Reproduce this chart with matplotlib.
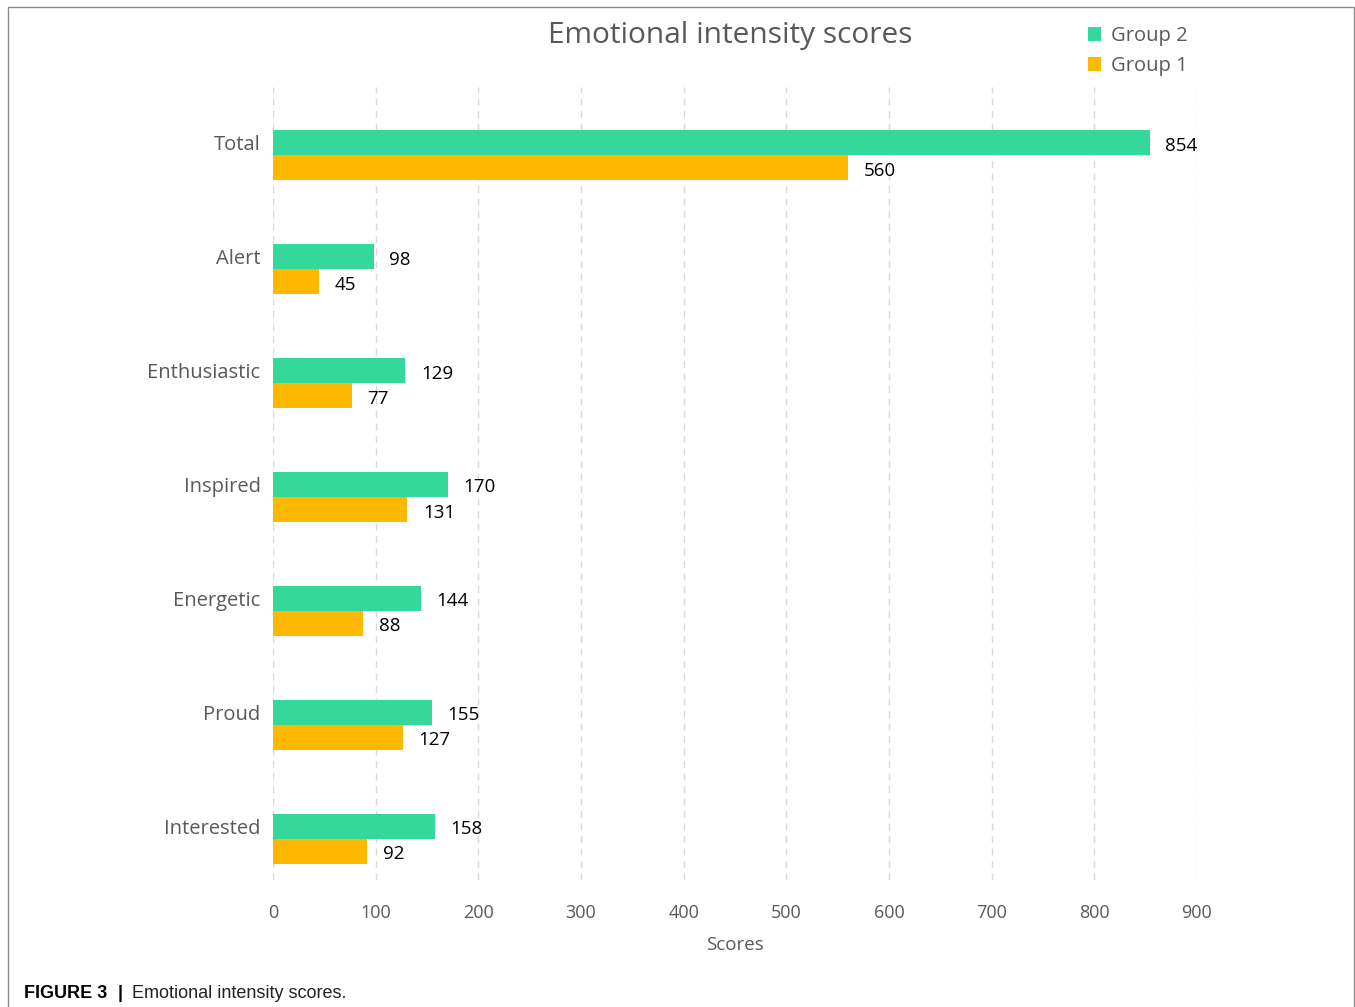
import numpy as np
import matplotlib.pyplot as plt
from matplotlib.patches import Rectangle

# data
cats = ['Interested', 'Proud', 'Energetic', 'Inspired', 'Enthusiastic', 'Alert', 'Total']
group2 = [158, 155, 144, 170, 129, 98, 854]
group1 = [92, 127, 88, 131, 77, 45, 560]

green = '#35D89B'
orange = '#FFB800'
txt = '#595959'

plt.rcParams['font.family'] = ['Open Sans', 'DejaVu Sans']

fig = plt.figure(figsize=(13.55, 10.07), dpi=100)
ax = fig.add_axes([273/1355, 1-880/1007, 924/1355, 793/1007])

y = np.arange(len(cats))
h = 0.22
ax.barh(y + h/2, group2, height=h, color=green, label='Group 2')
ax.barh(y - h/2, group1, height=h, color=orange, label='Group 1')

# value labels (a touch below bar centre, like the original)
for yi, v in zip(y, group2):
    ax.text(v + 15, yi + h/2 - 0.025, str(v), va='center', ha='left', fontsize=13.5, color='black')
for yi, v in zip(y, group1):
    ax.text(v + 15, yi - h/2 - 0.025, str(v), va='center', ha='left', fontsize=13.5, color='black')

ax.set_xlim(0, 900)
ax.set_ylim(-0.36, 6.6)
ax.set_xticks(np.arange(0, 901, 100))
ax.set_yticks(y + h/2)
ax.set_yticklabels(cats)
ax.tick_params(axis='y', length=0, labelsize=14.5, labelcolor=txt, pad=9)
ax.tick_params(axis='x', length=0, labelsize=13, labelcolor=txt, pad=17)
for s in ['top', 'right', 'bottom', 'left']:
    ax.spines[s].set_visible(False)
ax.grid(axis='x', color='#D9D9D9', linestyle=(0, (5, 4)), linewidth=1)
ax.set_axisbelow(True)
ax.set_xlabel('Scores', fontsize=13.5, color=txt, labelpad=10)

fig.text(730/1355, 1-35/1007, 'Emotional intensity scores', ha='center', va='center',
         fontsize=21.5, color=txt)

leg = ax.legend(handles=ax.get_legend_handles_labels()[0], loc='upper left',
                bbox_to_anchor=(1070/1355, 1-8/1007), bbox_transform=fig.transFigure,
                frameon=False, fontsize=14.5, handlelength=0.65, handleheight=0.65,
                handletextpad=0.5, labelspacing=0.5, labelcolor=txt)

# frame around the chart
fig.patches.append(Rectangle((8/1355, -0.01), 1346/1355, 1 - 7/1007 + 0.01,
                             transform=fig.transFigure, fill=False,
                             edgecolor='#8C8C8C', linewidth=1))

fig.text(24/1355, 1-993/1007, 'FIGURE 3', fontsize=13, fontweight='bold',
         family='Liberation Sans', va='center', ha='left')
fig.text(118/1355, 1-993/1007, '|', fontsize=13, fontweight='bold',
         family='Liberation Sans', va='center', ha='left')
fig.text(132/1355, 1-993/1007, 'Emotional intensity scores.', fontsize=13,
         family='Liberation Sans', va='center', ha='left', color='#222222')

plt.savefig('out.png', dpi=100)
